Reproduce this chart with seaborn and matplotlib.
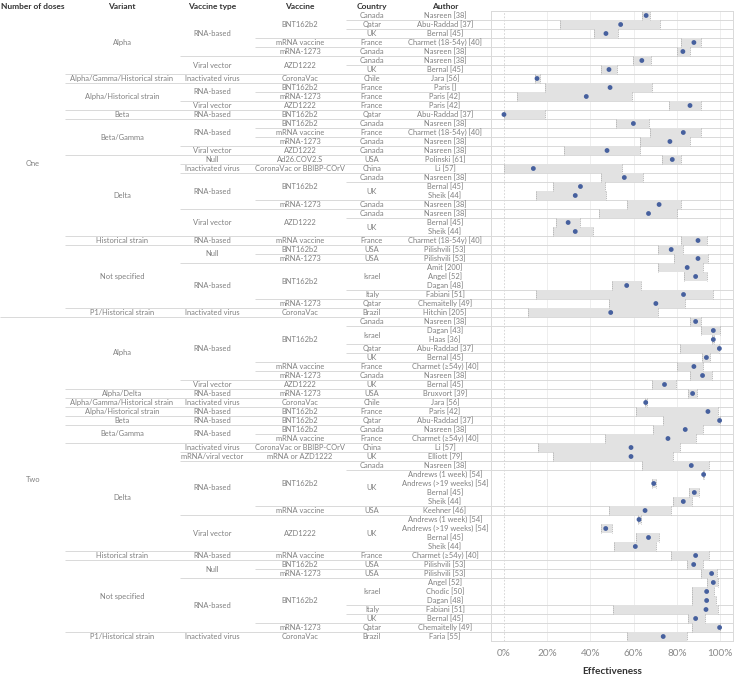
import numpy as np
import pandas as pd
import matplotlib.pyplot as plt
import seaborn as sns

# Estilo general
sns.set_style("white")
plt.rcParams['font.family'] = ['Lato', 'DejaVu Sans']

# ---- Datos ----
doses = ["One"] * 34 + ["Two"] * 36

variants = (["Alpha"] * 7 + ["Alpha/Gamma/Historical strain"] + ["Alpha/Historical strain"] * 3
            + ["Beta"] + ["Beta/Gamma"] * 4 + ["Delta"] * 9 + ["Historical strain"]
            + ["Not specified"] * 7 + ["P1/Historical strain"]
            + ["Alpha"] * 8 + ["Alpha/Delta"] + ["Alpha/Gamma/Historical strain"]
            + ["Alpha/Historical strain"] + ["Beta"] + ["Beta/Gamma"] * 2 + ["Delta"] * 12
            + ["Historical strain"] + ["Not specified"] * 8 + ["P1/Historical strain"])

vaccine_types = (["RNA-based"] * 5 + ["Viral vector"] * 2 + ["Inactivated virus"] + ["RNA-based"] * 2
                 + ["Viral vector"] + ["RNA-based"] * 4 + ["Viral vector"] + ["Null"]
                 + ["Inactivated virus"] + ["RNA-based"] * 4 + ["Viral vector"] * 3 + ["RNA-based"]
                 + ["Null"] * 2 + ["RNA-based"] * 5 + ["Inactivated virus"]
                 + ["RNA-based"] * 7 + ["Viral vector"] + ["RNA-based"] + ["Inactivated virus"]
                 + ["RNA-based"] * 4 + ["Inactivated virus"] + ["mRNA/viral vector"]
                 + ["RNA-based"] * 6 + ["Viral vector"] * 4 + ["RNA-based"] + ["Null"] * 2
                 + ["RNA-based"] * 6 + ["Inactivated virus"])

vaccines = (["BNT162b2"] * 3 + ["mRNA vaccine", "mRNA-1273"] + ["AZD1222"] * 2 + ["CoronaVac"]
            + ["BNT162b2", "mRNA-1273", "AZD1222", "BNT162b2", "BNT162b2", "mRNA vaccine",
               "mRNA-1273", "AZD1222", "Ad26.COV2.S", "CoronaVac or BBIBP-COrV"]
            + ["BNT162b2"] * 3 + ["mRNA-1273"] + ["AZD1222"] * 3 + ["mRNA vaccine"]
            + ["BNT162b2", "mRNA-1273"] + ["BNT162b2"] * 4 + ["mRNA-1273", "CoronaVac"]
            + ["BNT162b2"] * 5 + ["mRNA vaccine", "mRNA-1273", "AZD1222", "mRNA-1273", "CoronaVac",
                                  "BNT162b2", "BNT162b2", "BNT162b2", "mRNA vaccine",
                                  "CoronaVac or BBIBP-COrV", "mRNA or AZD1222"]
            + ["BNT162b2"] * 5 + ["mRNA vaccine"] + ["AZD1222"] * 4
            + ["mRNA vaccine", "BNT162b2", "mRNA-1273"] + ["BNT162b2"] * 5
            + ["mRNA-1273", "CoronaVac"])

countries = ["Canada", "Qatar", "UK", "France", "Canada", "Canada", "UK", "Chile", "France", "France",
             "France", "Qatar", "Canada", "France", "Canada", "Canada", "USA", "China", "Canada", "UK",
             "UK", "Canada", "Canada", "UK", "UK", "France", "USA", "USA", "Israel", "Israel",
             "Israel", "Italy", "Qatar", "Brazil",
             "Canada", "Israel", "Israel", "Qatar", "UK", "France", "Canada", "UK", "USA", "Chile",
             "France", "Qatar", "Canada", "France", "China", "UK", "Canada", "UK", "UK", "UK",
             "UK", "USA", "UK", "UK", "UK", "UK", "France", "USA", "USA", "Israel",
             "Israel", "Israel", "Italy", "UK", "Qatar", "Brazil"]

authors = ["Nasreen [38]", "Abu-Raddad [37]", "Bernal [45]", "Charmet (18-54y) [40]", "Nasreen [38]",
           "Nasreen [38]", "Bernal [45]", "Jara [56]", "Paris []", "Paris [42]", "Paris [42]",
           "Abu-Raddad [37]", "Nasreen [38]", "Charmet (18-54y) [40]", "Nasreen [38]", "Nasreen [38]",
           "Polinski [61]", "Li [57]", "Nasreen [38]", "Bernal [45]", "Sheik [44]", "Nasreen [38]",
           "Nasreen [38]", "Bernal [45]", "Sheik [44]", "Charmet (18-54y) [40]", "Pilishvili [53]",
           "Pilishvili [53]", "Amit [200]", "Angel [52]", "Dagan [48]", "Fabiani [51]",
           "Chemaitelly [49]", "Hitchin [205]",
           "Nasreen [38]", "Dagan [43]", "Haas [36]", "Abu-Raddad [37]", "Bernal [45]",
           "Charmet (≥54y) [40]", "Nasreen [38]", "Bernal [45]", "Bruxvort [39]", "Jara [56]",
           "Paris [42]", "Abu-Raddad [37]", "Nasreen [38]", "Charmet (≥54y) [40]", "Li [57]",
           "Elliott [79]", "Nasreen [38]", "Andrews (1 week) [54]", "Andrews (>19 weeks) [54]",
           "Bernal [45]", "Sheik [44]", "Keehner [46]", "Andrews (1 week) [54]",
           "Andrews (>19 weeks) [54]", "Bernal [45]", "Sheik [44]", "Charmet (≥54y) [40]",
           "Pilishvili [53]", "Pilishvili [53]", "Angel [52]", "Chodic [50]", "Dagan [48]",
           "Fabiani [51]", "Bernal [45]", "Chemaitelly [49]", "Faria [55]"]

effect = [65.8, 54.0, 47.2, 87.9, 82.8, 63.8, 48.6, 15.3, 49.1, 38.1, 86.1, 0.0, 59.9, 83.0, 76.8,
          47.7, 77.9, 13.6, 55.7, 35.4, 33.0, 71.8, 66.9, 29.7, 33.0, 89.8, 77.4, 89.8, 84.8, 88.7,
          56.8, 83.1, 70.3, 49.4,
          88.7, 96.9, 96.9, 99.7, 93.7, 87.9, 91.9, 74.3, 87.3, 65.6, 94.4, 99.8, 83.9, 75.9, 58.8,
          58.8, 86.7, 92.4, 69.3, 88.1, 83.0, 65.3, 62.5, 47.1, 66.9, 60.8, 88.7, 87.8, 96.1, 96.9,
          93.8, 93.8, 93.5, 88.7, 99.8, 73.7]

ci_low = [64.1, 26.0, 41.6, 81.9, 79.9, 59.9, 45.0, 14.2, 19.2, 6.2, 76.6, 0.0, 52.0, 67.8, 63.0,
          28.0, 73.1, 0.0, 45.0, 22.6, 14.9, 57.0, 44.0, 24.1, 22.9, 81.9, 71.1, 78.5, 71.1, 83.1,
          50.0, 15.0, 48.8, 11.1,
          85.9, 91.0, 96.5, 81.7, 91.5, 79.9, 85.9, 68.3, 85.4, 65.3, 61.0, 73.5, 69.0, 46.7, 15.8,
          22.9, 64.1, 92.0, 68.4, 85.8, 78.0, 48.8, 61.9, 44.9, 61.3, 51.1, 77.1, 84.5, 91.0, 94.0,
          86.8, 86.8, 50.6, 85.0, 86.8, 56.8]

ci_high = [67.8, 72.0, 52.6, 91.2, 86.1, 68.0, 52.2, 16.6, 68.4, 59.3, 91.2, 19.2, 67.0, 91.2, 86.1,
           63.0, 82.0, 54.8, 64.2, 46.7, 47.1, 82.0, 79.9, 35.4, 41.0, 94.0, 82.8, 94.4, 92.1, 94.0,
           63.2, 96.6, 83.7, 71.5,
           91.0, 100.0, 97.3, 99.7, 95.4, 92.1, 96.1, 79.6, 89.3, 66.1, 99.2, 99.8, 92.1, 88.9, 81.7,
           78.0, 94.9, 92.8, 70.4, 90.1, 87.2, 77.2, 63.5, 49.8, 71.8, 70.3, 94.9, 91.9, 98.5, 98.9,
           97.4, 98.0, 99.2, 93.0, 99.8, 84.7]

columns = ["Number of doses", "Variant", "Vaccine type", "Vaccine", "Country", "Author"]

df = pd.DataFrame({
    "Number of doses": doses,
    "Variant": variants,
    "Vaccine type": vaccine_types,
    "Vaccine": vaccines,
    "Country": countries,
    "Author": authors,
    "effect": effect,
    "low": ci_low,
    "high": ci_high,
})
df["row"] = np.arange(len(df))
n = len(df)

# ---- Layout (pixeles) ----
W, H = 738, 689
top_px, bot_px = 11, 641
left_px, right_px = 491, 733
col_start = [0, 65, 180, 255, 346]
col_center = [33, 122, 212, 300, 372, 445]

txt_color = '#808080'
head_color = '#333333'
line_color = '#d9d9d9'
fs = 5.4

fig = plt.figure(figsize=(W / 100, H / 100), dpi=100)
rect_h = (bot_px - top_px) / H
ax_tab = fig.add_axes([0, 1 - bot_px / H, left_px / W, rect_h])
ax = fig.add_axes([left_px / W, 1 - bot_px / H, (right_px - left_px) / W, rect_h])

# ---- Tabla de la izquierda ----
ax_tab.set_xlim(0, left_px)
ax_tab.set_ylim(n - 0.5, -0.5)
ax_tab.axis('off')

for name, xc in zip(columns, col_center):
    ax_tab.text(xc, -1.0, name, ha='center', va='center', fontsize=fs + 0.6, color=head_color,
                fontweight='bold', clip_on=False)

# celdas combinadas por nivel jerarquico
for level in range(len(columns)):
    keys = df[columns[:level + 1]].apply(tuple, axis=1)
    grp = (keys != keys.shift()).cumsum()
    for _, g in df.groupby(grp):
        yc = g["row"].mean()
        ax_tab.text(col_center[level], yc, g[columns[level]].iloc[0], ha='center', va='center',
                    fontsize=fs, color=txt_color, clip_on=False)

# separadores
for i in range(n - 1):
    for level in range(5):
        a = tuple(df.loc[i, columns[:level + 1]])
        b = tuple(df.loc[i + 1, columns[:level + 1]])
        if a != b:
            ax_tab.hlines(i + 0.5, col_start[level], left_px, color=line_color, lw=0.7)
            ax.axhline(i + 0.5, color=line_color, lw=0.7, zorder=0.5)
            break
ax_tab.hlines(n - 0.5, 0, left_px, color=line_color, lw=0.7)

# ---- Grafico de efectividad ----
ax.barh(df["row"], df["high"] - df["low"], left=df["low"], height=0.96,
        color='#e2e2e2', edgecolor='none', zorder=1)
ax.vlines(df["low"], df["row"] - 0.46, df["row"] + 0.46, color='#b0b0b0', lw=0.6,
          linestyles=(0, (1.5, 1)), zorder=1.5)
ax.vlines(df["high"], df["row"] - 0.46, df["row"] + 0.46, color='#b0b0b0', lw=0.6,
          linestyles=(0, (1.5, 1)), zorder=1.5)
sns.scatterplot(data=df, x="effect", y="row", ax=ax, color='#46609e', s=12,
                edgecolor='none', zorder=3, legend=False)

ax.set_xlim(-6, 106)
ax.set_ylim(n - 0.5, -0.5)
ax.set_yticks([])
ax.set_ylabel('')
ticks = [0, 20, 40, 60, 80, 100]
ax.set_xticks(ticks)
ax.set_xticklabels([f"{t}%" for t in ticks])
ax.tick_params(axis='x', length=0, pad=6, labelsize=7.2, labelcolor='#8a8a8a')
for t in ticks:
    ax.axvline(t, color='#ebebeb' if t else '#d0d0d0', lw=0.6,
               ls='-' if t else (0, (2, 2)), zorder=0.3)
ax.set_xlabel('Effectiveness', fontsize=7.2, color=head_color, fontweight='bold', labelpad=6)
for sp in ax.spines.values():
    sp.set_color(line_color)
    sp.set_linewidth(0.7)

fig.savefig('out.png', dpi=100)
